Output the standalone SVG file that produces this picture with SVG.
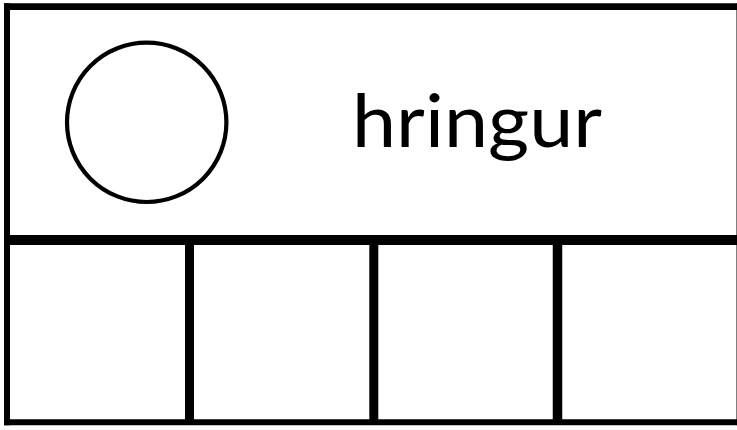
<svg xmlns="http://www.w3.org/2000/svg" width="737" height="430" viewBox="0 0 737 430">
  <style>
    .ln { stroke: #000; fill: none; stroke-linecap: butt; }
    .lbl { font-family: Lato, "Noto Sans", "DejaVu Sans", sans-serif; font-size: 73px; fill: #000; }
  </style>
  <rect x="0" y="0" width="737" height="430" fill="#fff"/>
  <g id="header">
    <line class="ln" x1="4" y1="6.7" x2="743" y2="6.7" stroke-width="6.7"/>
    <line class="ln" x1="7" y1="3.3" x2="7" y2="425.2" stroke-width="6"/>
    <line class="ln" x1="739.5" y1="3.3" x2="739.5" y2="425.2" stroke-width="6"/>
    <circle class="ln" cx="146.7" cy="122.3" r="79.7" stroke-width="4.2"/>
    <text class="lbl" x="352" y="146.5" textLength="250" lengthAdjust="spacingAndGlyphs">hringur</text>
  </g>
  <g id="cells">
    <line class="ln" x1="4" y1="240" x2="743" y2="240" stroke-width="10"/>
    <line class="ln" x1="4" y1="422.2" x2="743" y2="422.2" stroke-width="6"/>
    <line id="cell-div-1" class="ln" x1="189.5" y1="240" x2="189.5" y2="422" stroke-width="9"/>
    <line id="cell-div-2" class="ln" x1="373.8" y1="240" x2="373.8" y2="422" stroke-width="9"/>
    <line id="cell-div-3" class="ln" x1="557.5" y1="240" x2="557.5" y2="422" stroke-width="9.5"/>
  </g>
  <g id="connectors"></g>
</svg>
